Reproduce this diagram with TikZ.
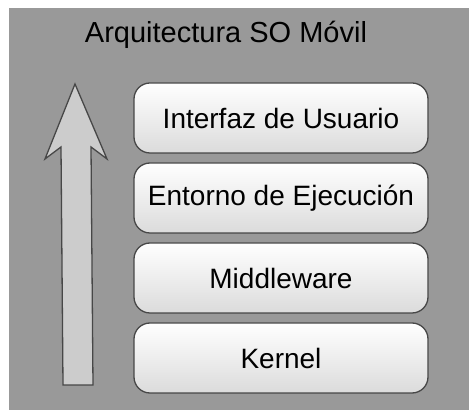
\documentclass[tikz,border=0pt]{standalone}
\usepackage{fontspec}
\setmainfont{Liberation Sans}
\begin{document}
\begin{tikzpicture}[x=1pt,y=-1pt,
  layer/.style={draw=black!72, line width=1.3pt, rounded corners=16pt,
    top color=white, bottom color=black!14, minimum width=294pt,
    minimum height=70pt, inner sep=0pt, font=\fontsize{28}{30}\selectfont},
  title/.style={font=\fontsize{29}{31}\selectfont, inner sep=0pt}]
\useasboundingbox (0,0) rectangle (469,411);
\fill[white] (0,0) rectangle (469,411);
\fill[black!40] (9,8) rectangle (469,410);
\node[title] (title) at (226,35) {Arquitectura SO Móvil};
% stacked layers, top to bottom
\node[layer] (ui) at (281,118) {Interfaz de Usuario};
\node[layer] (rt) at (281,198) {Entorno de Ejecución};
\node[layer] (mw) at (281,278) {Middleware};
\node[layer] (kn) at (281,358) {Kernel};
% upward arrow beside the stack
\draw[fill=black!20, draw=black!72, line width=1.3pt, line join=miter]
  (63,385) -- (93,385) -- (91,147) -- (107,159) -- (75,84)
  -- (45,159) -- (61,147) -- cycle;
\end{tikzpicture}
\end{document}
